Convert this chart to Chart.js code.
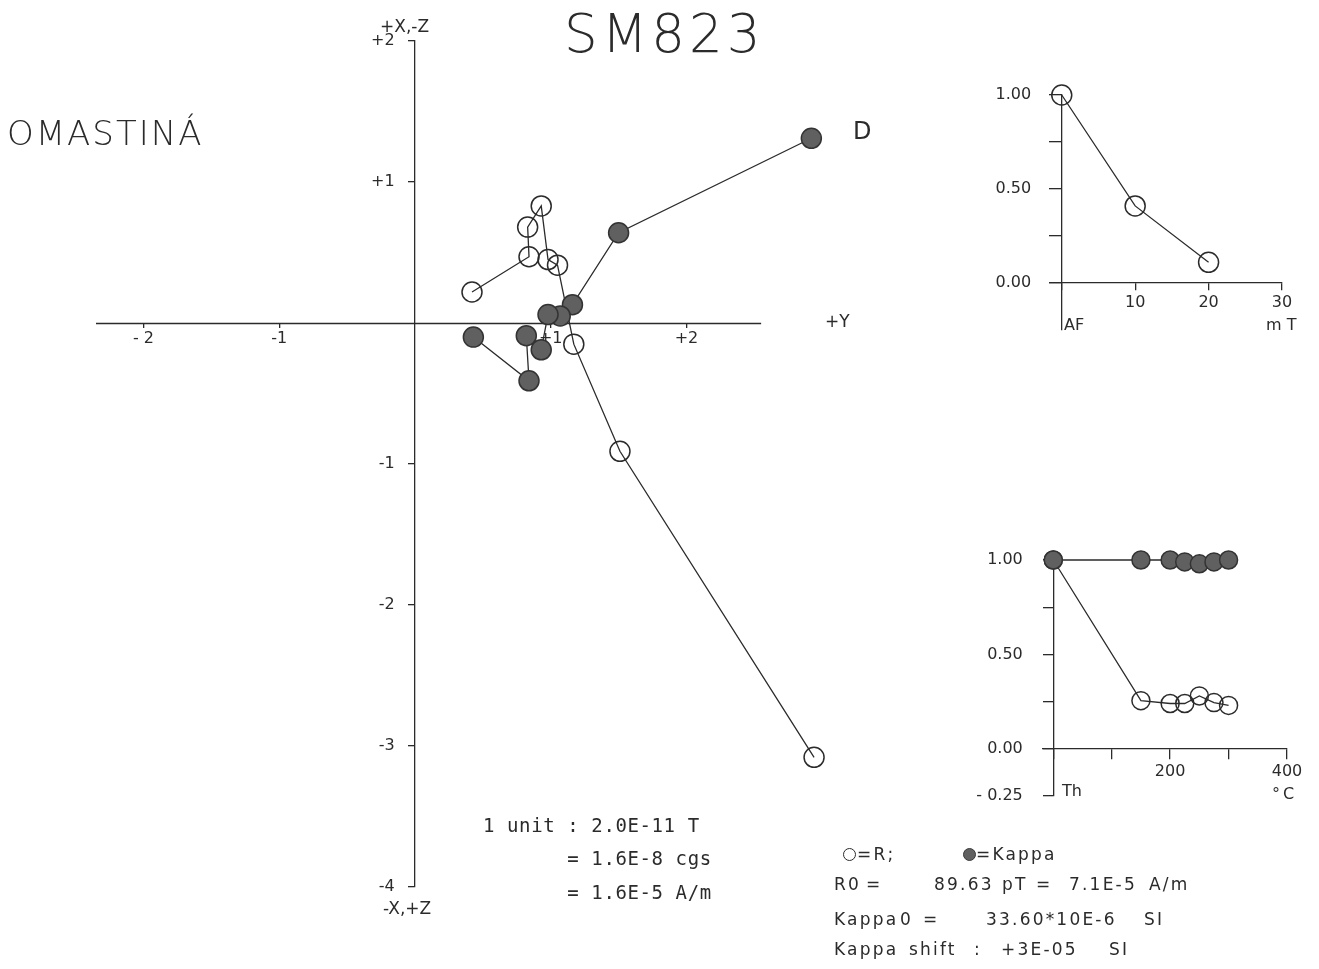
<!DOCTYPE html>
<html lang="sk">
<head>
  <meta charset="UTF-8" />
  <title>SM823</title>
  <style>
    body {
      margin: 0;
      width: 1319px;
      height: 969px;
      overflow: hidden;
      position: relative;
      background: #fff;
      font-family: "DejaVu Sans", sans-serif;
      color: #2b2b2b;
    }
    canvas {
      position: absolute;
    }
    .t {
      position: absolute;
      line-height: 1;
      white-space: pre;
      font-size: 17px;
    }
    .mono {
      font-family: "DejaVu Sans Mono", monospace;
      font-size: 19px;
      letter-spacing: 0.6px;
    }
    .leg {
      letter-spacing: 2.2px;
    }
    .dot {
      position: absolute;
      width: 11px;
      height: 11px;
      border-radius: 50%;
      border: 1.3px solid #2b2b2b;
    }
  </style>
  <script src="https://cdn.jsdelivr.net/npm/chart.js"></script>
</head>
<body>
  <canvas id="zij" width="1319" height="969" style="left:0;top:0"></canvas>
  <canvas id="af" width="369" height="300" style="left:950px;top:60px"></canvas>
  <canvas id="th" width="369" height="300" style="left:950px;top:530px"></canvas>

  <div class="t" style="left:564px;top:7px;font-size:53px;letter-spacing:4px;font-weight:300">SM823</div>
  <div class="t" style="left:7px;top:116px;font-size:34px;letter-spacing:2px;font-weight:300">OMASTINÁ</div>
  <div class="t" style="left:380px;top:18px">+X,-Z</div>
  <div class="t" style="left:383px;top:900px">-X,+Z</div>
  <div class="t" style="left:825px;top:313px">+Y</div>
  <div class="t" style="left:853px;top:119px;font-size:24px">D</div>

  <div class="t" style="left:1064px;top:317px;font-size:16px">AF</div>
  <div class="t" style="left:1266px;top:317px;font-size:16px">m T</div>
  <div class="t" style="left:1062px;top:783px;font-size:16px">Th</div>
  <div class="t" style="left:1272px;top:786px;font-size:16px;letter-spacing:3px">°C</div>

  <div class="t mono" style="left:483px;top:816px">1 unit : 2.0E-11 T</div>
  <div class="t mono" style="left:483px;top:849px">       = 1.6E-8 cgs</div>
  <div class="t mono" style="left:483px;top:883px">       = 1.6E-5 A/m</div>

  <div class="dot" style="left:843px;top:848px"></div>
  <div class="t leg" style="left:857px;top:846px">=R;</div>
  <div class="dot" style="left:963px;top:848px;background:#606060;border-color:#3a3a3a"></div>
  <div class="t leg" style="left:976px;top:846px">=Kappa</div>

  <div class="t leg" style="left:834px;top:876px">R0</div>
  <div class="t leg" style="left:866px;top:876px">=</div>
  <div class="t leg" style="left:934px;top:876px">89.63</div>
  <div class="t leg" style="left:1002px;top:876px">pT</div>
  <div class="t leg" style="left:1036px;top:876px">=</div>
  <div class="t leg" style="left:1069px;top:876px">7.1E-5</div>
  <div class="t leg" style="left:1149px;top:876px">A/m</div>

  <div class="t leg" style="left:834px;top:911px">Kappa</div>
  <div class="t leg" style="left:900px;top:911px">0</div>
  <div class="t leg" style="left:923px;top:911px">=</div>
  <div class="t leg" style="left:986px;top:911px">33.60*10E-6</div>
  <div class="t leg" style="left:1144px;top:911px">SI</div>

  <div class="t leg" style="left:834px;top:941px">Kappa</div>
  <div class="t leg" style="left:909px;top:941px">shift</div>
  <div class="t leg" style="left:974px;top:941px">:</div>
  <div class="t leg" style="left:1001px;top:941px">+3E-05</div>
  <div class="t leg" style="left:1109px;top:941px">SI</div>

  <script>
    // Zijderveld diagram, units of 2.0E-11 T
    // open circles: vertical projection (Y against X,Z)
    const vertY = [2.94, 1.51, 1.17, 1.05, 0.98, 0.93, 0.83, 0.84, 0.42];
    const vertZ = [-3.08, -0.91, -0.15, 0.41, 0.45, 0.83, 0.68, 0.47, 0.22];
    // filled circles: horizontal projection (Y against X)
    const horY = [2.92, 1.50, 1.16, 1.07, 0.98, 0.93, 0.82, 0.84, 0.43];
    const horX = [1.31, 0.64, 0.13, 0.05, 0.06, -0.19, -0.09, -0.41, -0.10];

    const zijXTicks = [-2, -1, 1, 2];
    const zijXLabels = ["- 2", "-1", "+1", "+2"];
    const zijYTicks = [2, 1, -1, -2, -3, -4];
    const zijYLabels = ["+2", "+1", "-1", "-2", "-3", "-4"];
    // the drawn +Y axis stops short of the NRM point
    const zijXAxisEnds = [-2.35, 2.55];

    // AF demagnetisation, R/R0
    const afField = [0, 10, 20];
    const afR = [1.00, 0.41, 0.11];
    const afXTicks = [0, 10, 20, 30];
    const afXLabels = ["", "10", "20", "30"];
    const afYTicks = [0, 0.25, 0.5, 0.75, 1];
    const afYLabels = ["0.00", "", "0.50", "", "1.00"];

    // thermal demagnetisation, R/R0 and Kappa/Kappa0
    const thTemp = [0, 150, 200, 225, 250, 275, 300];
    const thR = [1.00, 0.255, 0.24, 0.24, 0.28, 0.245, 0.23];
    const thKappa = [1.00, 1.00, 1.00, 0.99, 0.98, 0.99, 1.00];
    const thXTicks = [0, 100, 200, 300, 400];
    const thXLabels = ["", "", "200", "", "400"];
    const thYTicks = [-0.25, 0, 0.25, 0.5, 0.75, 1];
    const thYLabels = ["- 0.25", "0.00", "", "0.50", "", "1.00"];

    const INK = "#2b2b2b";
    const FILL = "#606060";

    Chart.defaults.font.family = '"DejaVu Sans", sans-serif';
    Chart.defaults.font.size = 16;
    Chart.defaults.color = INK;

    // labels of an axis placed at {x: 0} are drawn right on the axis line,
    // so trailing spaces push them off to the left
    function axis(min, max, position, tickVals, tickLabels, tl, pad, gap) {
      const tail = " ".repeat(gap || 0);
      return {
        type: "linear",
        min: min,
        max: max,
        position: position,
        afterBuildTicks: (s) => {
          s.ticks = tickVals.map((v) => ({ value: v }));
        },
        ticks: {
          autoSkip: false,
          maxRotation: 0,
          padding: pad,
          callback: (v, i) => (tickLabels[i] ? tickLabels[i] + tail : ""),
        },
        grid: {
          drawOnChartArea: false,
          drawTicks: true,
          tickLength: tl,
          color: INK,
          lineWidth: 1.3,
        },
        border: { display: true, color: INK, width: 1.3 },
      };
    }

    function series(xs, ys, filled, r) {
      return {
        data: xs.map((x, i) => ({ x: x, y: ys[i] })),
        showLine: true,
        borderColor: INK,
        borderWidth: 1.3,
        pointRadius: r,
        pointHoverRadius: r,
        pointBorderWidth: 1.5,
        pointBorderColor: filled ? "#333" : INK,
        pointBackgroundColor: filled ? FILL : "rgba(255,255,255,0)",
        clip: false,
      };
    }

    const common = {
      responsive: false,
      animation: false,
      devicePixelRatio: 1,
      plugins: { legend: { display: false }, tooltip: { enabled: false } },
    };

    const xAxisLine = {
      id: "xAxisLine",
      beforeDatasetsDraw(chart) {
        const { ctx, scales } = chart;
        const py = Math.round(scales.y.getPixelForValue(0)) + 0.5;
        ctx.save();
        ctx.strokeStyle = INK;
        ctx.lineWidth = 1.3;
        ctx.beginPath();
        ctx.moveTo(scales.x.getPixelForValue(zijXAxisEnds[0]), py);
        ctx.lineTo(scales.x.getPixelForValue(zijXAxisEnds[1]), py);
        ctx.stroke();
        ctx.restore();
      },
    };

    const zijX = axis(-2.35, 3.05, { y: 0 }, zijXTicks, zijXLabels, 5, 1);
    zijX.border = { display: false };

    new Chart(document.getElementById("zij"), {
      type: "scatter",
      data: {
        datasets: [
          series(horY, horX, true, 10),
          series(vertY, vertZ, false, 10),
        ],
      },
      options: {
        ...common,
        layout: { padding: { left: 96, right: 490, top: 41, bottom: 82 } },
        scales: {
          x: zijX,
          y: axis(-4, 2, { x: 0 }, zijYTicks, zijYLabels, 6, 0, 4),
        },
      },
      plugins: [xAxisLine],
    });

    new Chart(document.getElementById("af"), {
      type: "scatter",
      data: { datasets: [series(afField, afR, false, 10)] },
      options: {
        ...common,
        layout: { padding: { left: 100, right: 37, top: 35, bottom: 30 } },
        scales: {
          x: axis(-1.6, 30, { y: 0 }, afXTicks, afXLabels, 7, 3),
          y: axis(-0.25, 1, { x: 0 }, afYTicks, afYLabels, 12, 0, 6),
        },
      },
    });

    new Chart(document.getElementById("th"), {
      type: "scatter",
      data: {
        datasets: [
          series(thTemp, thKappa, true, 9),
          series(thTemp, thR, false, 9),
        ],
      },
      options: {
        ...common,
        layout: { padding: { left: 93, right: 32, top: 30, bottom: 34 } },
        scales: {
          x: axis(-17.6, 400, { y: 0 }, thXTicks, thXLabels, 10, 3),
          y: axis(-0.25, 1, { x: 0 }, thYTicks, thYLabels, 10, 0, 6),
        },
      },
    });
  </script>
</body>
</html>
